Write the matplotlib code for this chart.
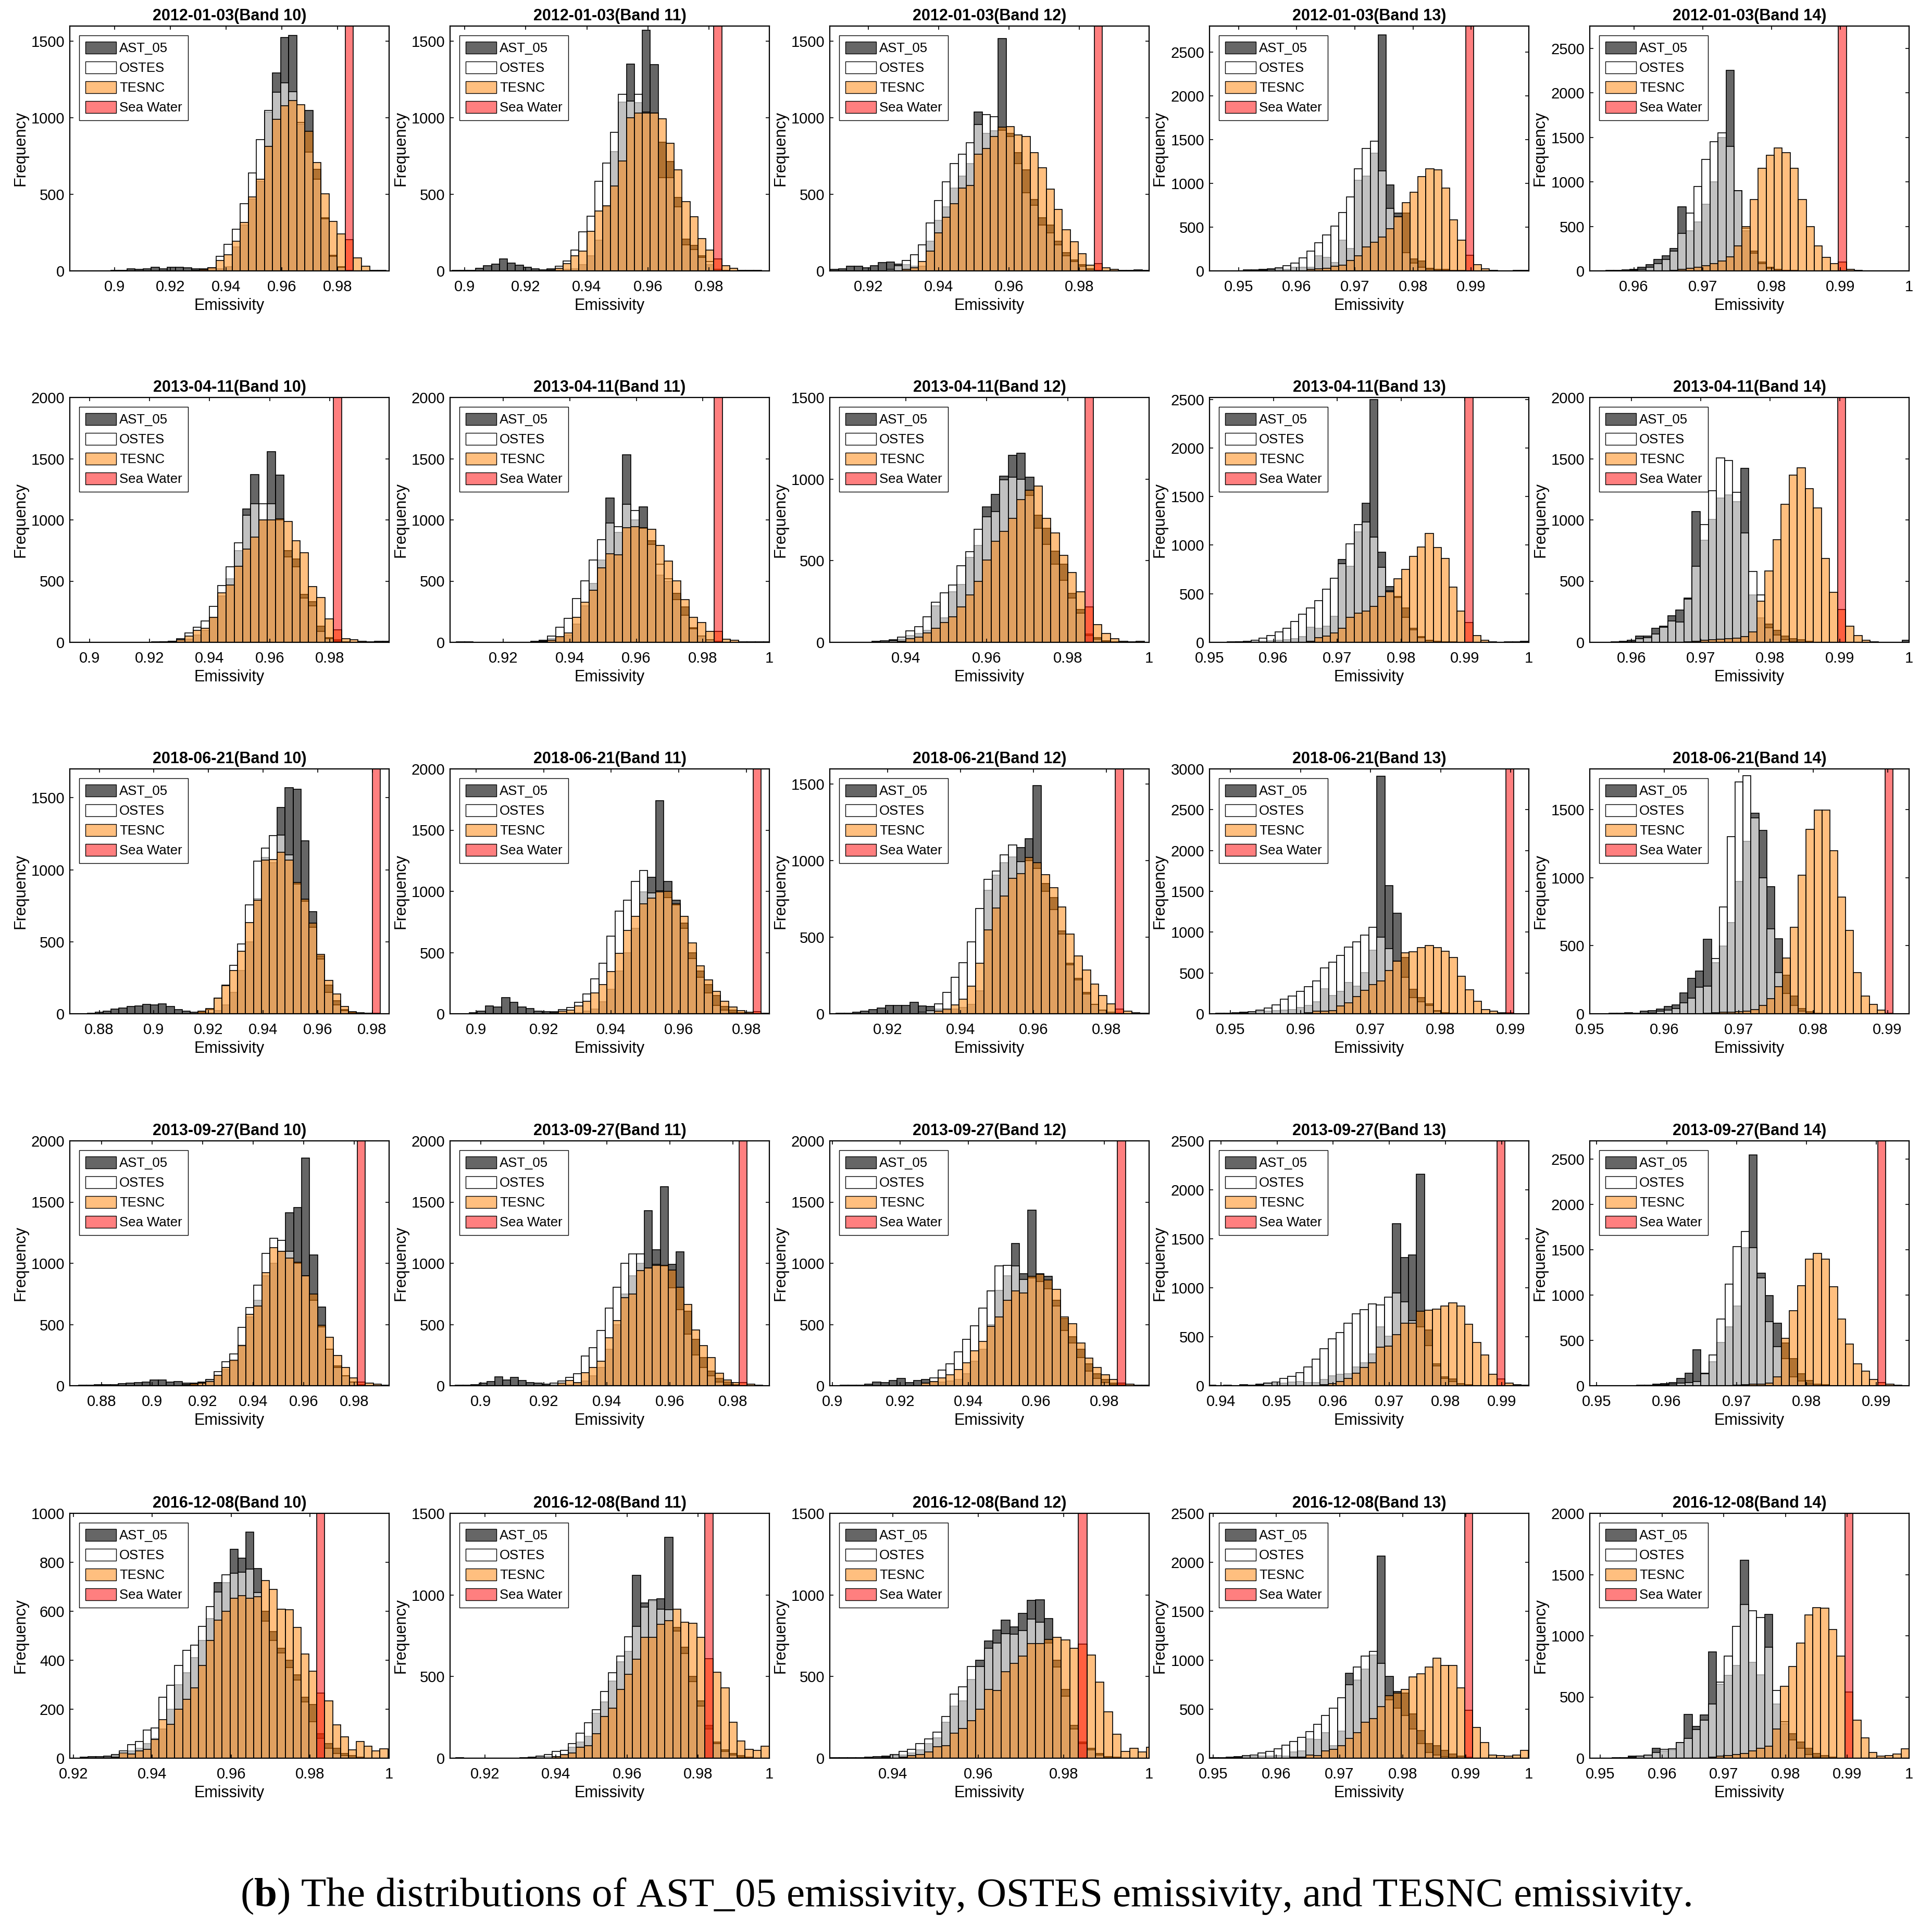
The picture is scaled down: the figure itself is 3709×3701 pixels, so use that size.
import numpy as np
import matplotlib.pyplot as plt
from matplotlib.patches import Patch
from matplotlib.ticker import FuncFormatter

plt.rcParams['font.family'] = ['Liberation Sans', 'DejaVu Sans']
plt.rcParams['mathtext.fontset'] = 'custom'
plt.rcParams['mathtext.rm'] = 'Liberation Serif'
plt.rcParams['mathtext.bf'] = 'Liberation Serif:bold'

# titles
dates = ["2012-01-03", "2013-04-11", "2018-06-21", "2013-09-27", "2016-12-08"]
bands = [10, 11, 12, 13, 14]

# histogram bins: first edge, bin width, index of the sea water bin (row major panels)
bin_start = [0.8842, 0.8958, 0.90929, 0.94535, 0.9536,
             0.8932, 0.90583, 0.92118, 0.94908, 0.9536,
             0.8698, 0.89317, 0.90367, 0.94675, 0.94939,
             0.86777, 0.88938, 0.8999, 0.93764, 0.94881,
             0.91969, 0.91181, 0.92545, 0.94952, 0.948]
bin_width = [0.0029, 0.0026, 0.00227, 0.001365, 0.001165,
             0.00275, 0.0025, 0.0021, 0.00124, 0.001165,
             0.0029, 0.0024, 0.00225, 0.00115, 0.00106,
             0.00315, 0.0025, 0.0024, 0.00143, 0.00115,
             0.002, 0.00226, 0.002, 0.00126, 0.0013]
sea_bin = [34, 33, 33, 32, 31,
           32, 31, 30, 33, 31,
           38, 37, 35, 37, 38,
           36, 37, 35, 36, 36,
           31, 31, 29, 32, 32]
sea_count = [9000, 9000, 9000, 9000, 9000,
             9000, 9000, 9000, 9000, 9000,
             9000, 9000, 9000, 9000, 9000,
             9000, 9000, 9000, 9000, 9000,
             9000, 9000, 9000, 9000, 9000]

# 2012-01-03
ast_01 = [0,0,0,0,0,5,5,15,10,12,25,15,25,25,22,12,15,20,15,27,157,300,470,584,1040,1292,1524,1539,960,1048,664,348,102,27,3,0,0,0,3]
ostes_01 = [0,0,0,0,0,0,0,0,0,0,0,0,0,0,0,2,5,20,95,175,273,440,641,857,1048,1166,1228,1170,969,775,600,340,95,25,5,0,0,0,0]
tesnc_01 = [0,0,0,0,0,0,0,0,0,0,0,0,0,0,0,3,10,20,68,106,195,316,484,600,812,989,1078,1112,1085,911,709,505,325,241,205,86,31,2,0]

ast_02 = [3,3,3,16,35,44,79,51,38,25,12,6,5,8,10,15,40,100,200,420,779,1104,1350,1100,1573,1348,841,716,480,206,166,100,40,10,3,0,0,3,3,0]
ostes_02 = [0,0,0,0,0,0,0,0,0,0,0,5,15,29,64,135,254,356,585,704,904,1154,1110,1155,1040,1030,610,610,420,170,140,90,60,10,0,0,0,0,0,0]
tesnc_02 = [0,0,0,0,0,0,0,0,0,0,0,3,8,16,48,98,130,260,391,426,556,720,1000,1030,1030,1030,994,835,660,454,354,210,135,79,35,16,3,0,0,0]

ast_03 = [10,15,31,29,19,34,54,57,44,40,30,30,195,330,420,540,620,700,1040,900,916,1518,900,773,660,465,346,300,195,120,70,40,15,5,0,0,0,0,6,2]
ostes_03 = [0,0,0,0,0,0,0,10,35,69,107,171,312,460,582,700,761,836,956,1021,1006,920,880,700,510,430,300,250,170,100,60,30,10,3,0,0,0,0,0,0]
tesnc_03 = [0,0,0,0,0,0,0,0,0,10,20,60,130,250,350,440,540,560,761,800,880,940,943,887,880,773,673,535,402,270,189,113,38,47,19,10,3,2,0,0]

ast_04 = [0,0,0,0,12,12,17,26,24,20,40,40,40,172,153,97,350,255,1035,1087,1349,2700,983,662,662,137,113,30,20,15,5,3,0,0,0,0,0,0,4,4]
ostes_04 = [0,0,0,0,0,5,10,20,35,59,90,149,224,319,413,510,669,846,1170,1401,1484,1141,716,621,208,90,42,20,10,5,0,0,0,0,0,0,0,0,0,0]
tesnc_04 = [0,0,0,0,0,0,0,0,0,0,0,0,17,21,31,54,66,120,172,272,326,390,484,620,780,898,1077,1170,1153,948,581,354,180,71,24,5,0,0,0,0]

ast_05 = [0,0,3,5,10,20,40,70,130,170,250,720,450,550,750,1000,1500,2250,900,450,220,100,40,15,8,3,0,0,0,0,0,0,0,0,0,0,0,0,0,0]
ostes_05 = [0,0,0,2,5,10,20,40,80,130,220,420,650,950,1250,1450,1550,1400,900,480,200,80,30,10,5,2,0,0,0,0,0,0,0,0,0,0,0,0,0,0]
tesnc_05 = [0,0,0,0,0,0,0,0,0,0,5,15,30,40,60,80,110,160,280,500,800,1150,1300,1380,1330,1150,800,500,280,150,80,100,20,5,0,0,0,0,0,0]

# 2013-04-11
ast_06 = [0,0,0,0,0,0,0,0,0,0,3,3,8,18,27,60,100,200,380,520,750,1090,1370,1000,1559,1367,750,680,390,330,130,40,20,5,0,0,0,8,8]
ostes_06 = [0,0,0,0,0,0,0,0,0,0,0,3,10,30,76,122,175,294,465,617,812,1040,1130,1130,1130,1000,700,617,360,300,90,30,10,0,0,0,0,0,0]
tesnc_06 = [0,0,0,0,0,0,0,0,0,0,0,0,5,20,53,99,114,206,404,470,620,760,860,1000,1000,1010,988,831,732,457,366,190,104,30,20,10,3,0,0]

ast_07 = [5,5,0,0,0,0,0,0,0,10,18,30,40,60,150,300,480,671,1177,900,1532,1000,1108,830,550,500,400,290,120,40,15,5,0,0,0,0,0,0]
ostes_07 = [0,0,0,0,0,0,0,0,0,0,10,50,122,194,358,503,671,838,976,945,1128,1075,930,800,640,520,350,220,110,50,20,10,0,0,0,0,0,0]
tesnc_07 = [0,0,0,0,0,0,0,0,0,0,5,18,46,76,206,328,427,610,724,716,937,945,937,922,793,663,503,350,206,160,91,90,26,15,5,3,3,5]

ast_08 = [0,0,0,0,0,6,11,17,20,40,55,74,223,149,309,355,521,595,830,907,1019,1145,1160,1013,780,700,560,480,300,200,50,30,10,3,0,0,0,0]
ostes_08 = [0,0,0,0,0,0,0,10,31,69,97,155,246,303,351,469,555,693,769,800,996,1013,1000,900,700,600,480,380,270,180,40,20,5,0,0,0,0,0]
tesnc_08 = [0,0,0,0,0,0,0,0,5,23,32,57,86,120,155,218,292,372,504,618,681,760,876,933,956,761,670,532,429,309,218,109,55,23,5,3,5,0]

ast_09 = [0,0,0,4,5,5,5,10,15,20,25,40,58,154,144,167,269,852,785,1135,1433,2500,927,573,470,356,144,60,20,10,5,3,0,0,0,0,0,0,5,5,10,0]
ostes_09 = [0,0,0,0,5,10,23,44,71,106,144,212,288,356,429,548,660,808,1015,1212,1237,1083,773,529,460,260,130,48,15,5,0,0,0,0,0,0,0,0,0,0,0,0]
tesnc_09 = [0,0,0,0,0,0,0,0,0,0,0,0,0,10,48,63,96,144,260,298,320,371,471,520,654,750,885,981,1121,977,865,571,323,206,71,19,3,0,0,0,0,0]

ast_10 = [0,0,0,3,8,15,50,50,114,133,218,264,361,1067,834,1005,1178,1204,1150,1422,389,200,150,100,50,30,20,10,0,0,0,0,0,0,0,0,0,0,0,15]
ostes_10 = [0,0,0,0,0,5,30,40,69,122,175,168,355,620,963,1239,1505,1483,1227,895,579,389,120,60,20,5,0,0,0,0,0,0,0,0,0,0,0,0,0,0]
tesnc_10 = [0,0,0,0,0,0,0,0,0,0,0,0,5,10,15,20,25,30,35,46,84,335,584,838,1128,1364,1425,1255,1098,686,407,270,130,56,15,3,0,0,0,0]

# 2018-06-21
ast_11 = [0,0,4,10,17,33,39,49,55,64,62,68,49,30,17,10,8,8,20,60,150,300,500,800,1085,1050,1432,1570,1559,1201,709,400,200,90,30,10,5,3,0,0]
ostes_11 = [0,0,0,0,0,0,0,0,0,0,0,0,0,0,0,0,10,30,110,200,335,486,757,1059,1149,1238,1239,1104,900,780,600,380,150,60,20,5,0,0,0,0]
tesnc_11 = [0,0,0,0,0,0,0,0,0,0,0,0,0,0,0,0,17,36,107,197,300,435,634,789,1066,1072,1120,1068,911,795,628,412,232,139,49,13,8,3,3,0]

ast_12 = [0,0,8,20,65,57,132,95,57,42,20,15,12,10,10,10,20,40,100,200,350,500,700,997,1117,1741,1080,929,740,500,350,240,150,60,30,10,5,0,0]
ostes_12 = [0,0,0,0,0,0,0,0,0,0,0,0,15,35,50,95,162,283,411,632,839,929,1080,1170,989,1005,950,890,700,450,300,170,70,30,10,5,0,0,0]
tesnc_12 = [0,0,0,0,0,0,0,0,0,0,0,0,10,20,30,65,102,170,238,343,493,681,794,899,944,997,1000,899,794,580,391,275,185,102,57,27,12,15,5]

ast_13 = [0,3,4,10,16,28,36,54,54,54,74,52,46,30,25,30,40,60,150,807,904,988,1025,1085,1145,1490,850,760,540,330,230,140,60,20,5,3,0,0,3]
ostes_13 = [0,0,0,0,0,0,0,0,0,0,0,10,20,64,140,239,333,469,686,877,934,1040,1103,994,1000,950,800,680,520,320,220,130,60,25,10,0,0,0,0]
tesnc_13 = [0,0,0,0,0,0,0,0,0,0,0,0,0,16,31,58,94,180,330,547,692,771,886,916,1021,988,910,825,698,520,378,285,193,118,64,31,16,6,0]

ast_14 = [0,4,4,11,18,20,29,30,41,45,52,75,104,145,308,222,277,381,336,506,778,2909,1571,1229,692,300,200,120,40,10,5,0,0,0,0,0,0,0,0,0]
ostes_14 = [0,0,0,0,10,27,45,68,109,177,215,277,331,399,562,635,717,819,884,966,1061,937,800,642,450,200,150,100,30,10,0,0,0,0,0,0,0,0,0,0]
tesnc_14 = [0,0,0,0,0,0,0,0,0,0,0,0,10,34,34,41,97,132,211,290,358,399,528,642,748,762,812,839,812,766,687,460,295,154,52,29,14,14,3,0]

ast_15 = [0,0,0,3,3,7,4,18,22,36,52,66,155,261,313,546,374,498,672,971,1268,1475,1348,936,552,285,130,40,15,5,0,0,0,0,0,0,0,0,0,0,0,0]
ostes_15 = [0,0,0,0,0,0,0,0,5,18,25,38,80,114,196,203,405,786,1304,1704,1752,1440,998,625,303,150,60,20,5,0,0,0,0,0,0,0,0,0,0,0,0,0]
tesnc_15 = [0,0,0,0,0,0,0,0,0,0,0,0,0,0,0,5,8,10,12,15,20,30,60,110,200,409,635,1019,1357,1499,1499,1197,858,614,302,132,70,27,4,0,0,0]

# 2013-09-27
ast_16 = [0,3,3,8,8,8,15,20,27,30,45,45,30,35,20,20,30,45,80,130,200,330,560,700,900,1000,1100,1411,1454,1861,1067,642,300,160,80,30,10,0,0,0]
ostes_16 = [0,0,0,0,0,0,0,0,0,0,0,0,0,0,0,10,20,50,115,196,261,476,637,823,1079,1206,1188,1100,1000,900,700,480,300,150,80,30,10,0,0,0]
tesnc_16 = [0,0,0,0,0,0,0,0,0,0,0,0,0,0,10,15,20,35,87,148,208,329,585,650,924,1127,1100,1044,1007,900,751,494,396,246,148,65,30,20,12,5]

ast_17 = [0,3,5,9,20,35,72,45,69,42,24,20,12,10,10,10,20,40,80,150,300,500,750,900,1000,1429,1109,1625,990,1093,610,380,230,120,60,30,10,0,0,0,0]
ostes_17 = [0,0,0,0,0,0,0,0,0,0,0,0,0,20,40,69,99,241,310,449,634,803,999,1075,1075,960,990,980,800,620,420,250,150,80,30,10,0,0,0,0,0]
tesnc_17 = [0,0,0,0,0,0,0,0,0,0,0,0,0,0,20,42,27,105,148,200,392,532,720,750,939,962,984,984,946,803,663,457,329,231,102,45,27,27,12,6,0]

ast_18 = [0,3,3,5,12,30,24,43,58,27,43,50,30,30,40,50,100,200,300,500,780,900,1160,917,1434,917,894,700,550,400,300,180,100,50,20,10,0,0,0]
ostes_18 = [0,0,0,0,0,0,0,0,0,0,0,20,65,126,179,278,377,491,636,776,978,981,978,870,880,850,790,650,450,350,230,120,60,25,10,0,0,0,0]
tesnc_18 = [0,0,0,0,0,0,0,0,0,0,0,20,35,65,88,134,187,286,362,487,560,697,773,757,894,909,864,788,560,506,347,225,149,88,50,20,12,5,5]

ast_19 = [5,0,3,0,9,5,15,24,20,28,38,43,30,34,62,100,119,123,192,232,326,600,505,1652,1307,1335,2161,571,222,90,70,20,10,0,0,0,0,0,0,0]
ostes_19 = [0,0,0,0,0,0,10,24,38,72,94,132,194,270,377,477,543,637,735,779,835,826,905,948,854,666,600,411,200,77,40,15,0,0,0,0,0,0,0,0]
tesnc_19 = [0,0,0,0,0,0,0,0,0,0,0,0,0,0,10,20,43,72,128,185,232,392,402,520,637,637,760,769,784,816,848,816,628,443,313,119,68,24,9,5]

ast_20 = [0,0,0,0,0,0,4,6,16,21,33,78,140,397,136,267,479,650,880,1524,2546,1240,993,691,469,300,130,60,20,10,0,0,0,0,0,0,0,0,0,0]
ostes_20 = [0,0,0,0,0,0,0,0,5,10,20,30,37,47,134,341,736,1123,1532,1703,1524,1189,705,428,300,100,50,20,0,0,0,0,0,0,0,0,0,0,0,0]
tesnc_20 = [0,0,0,0,0,0,0,0,0,0,0,0,0,0,0,0,0,0,5,10,15,20,30,100,520,825,1102,1394,1460,1394,1090,736,459,243,160,68,37,16,6,0]

# 2016-12-08
ast_21 = [0,4,6,6,8,10,15,30,40,60,80,120,200,299,349,410,480,570,716,718,853,817,924,775,600,516,450,400,340,250,220,100,60,40,20,10,5,0,0,0]
ostes_21 = [0,0,0,0,0,14,29,56,69,114,124,250,297,378,440,462,538,620,678,749,756,760,772,676,560,480,430,370,320,230,150,80,40,20,10,0,0,0,0,0]
tesnc_21 = [0,0,0,0,0,5,21,18,30,37,76,158,139,200,241,288,379,480,564,600,653,663,653,660,726,690,608,606,533,426,356,265,235,136,88,33,69,48,29,38]

ast_22 = [3,0,0,0,0,0,0,0,3,3,5,10,10,15,66,100,135,274,346,472,592,655,1120,950,965,978,1354,800,680,500,350,200,100,50,30,15,5,0,0]
ostes_22 = [0,0,0,0,0,0,0,0,0,7,13,21,41,49,89,154,217,297,409,523,626,743,809,926,971,914,910,780,640,470,320,180,90,40,20,5,0,0,0]
tesnc_22 = [0,0,0,0,0,0,0,0,0,0,0,0,11,21,32,66,78,149,255,306,421,514,606,741,741,820,843,912,832,826,741,609,526,430,221,106,55,49,72]

ast_23 = [3,3,3,3,7,9,13,15,18,32,50,89,126,221,318,352,483,600,718,786,846,803,887,967,970,855,600,420,200,100,60,30,10,5,0,0,0,0]
ostes_23 = [0,0,0,0,0,0,5,21,43,55,89,118,158,255,392,438,563,563,672,704,763,760,781,853,832,706,560,380,180,90,50,20,5,0,0,0,0,0]
tesnc_23 = [0,0,0,0,0,0,0,0,5,15,21,38,69,78,152,181,229,301,421,415,529,581,626,701,701,729,741,723,672,700,632,466,283,146,43,61,38,66]

ast_24 = [6,6,11,15,15,15,20,22,25,20,63,76,196,190,259,129,278,868,796,910,1053,2066,834,682,663,450,280,150,130,80,40,20,10,0,0,0,0,0,0,0]
ostes_24 = [0,0,5,10,25,34,53,67,95,135,168,215,272,348,434,510,615,748,929,1043,1091,967,596,510,434,300,150,60,30,15,5,0,0,0,0,0,0,0,0,0]
tesnc_24 = [0,0,0,0,0,0,0,0,0,0,10,10,34,29,72,91,129,202,263,367,406,529,640,666,700,830,862,933,1020,948,948,720,491,314,162,30,25,21,34,82]

ast_25 = [0,0,0,5,5,17,17,20,81,60,70,129,359,260,355,870,606,675,759,1619,784,682,1174,443,280,200,130,80,40,20,10,0,0,0,0,0,0,0,0,0]
ostes_25 = [0,0,0,0,0,10,15,25,46,73,76,129,161,233,309,442,621,835,1078,1254,1203,1147,908,553,300,150,80,30,10,0,0,0,0,0,0,0,0,0,0,0]
tesnc_25 = [0,0,0,0,0,0,0,0,0,0,0,0,0,0,0,10,15,20,30,40,60,80,100,240,586,748,941,1170,1231,1226,1051,832,542,309,165,46,15,20,35,76]

ast = [ast_01, ast_02, ast_03, ast_04, ast_05, ast_06, ast_07, ast_08, ast_09, ast_10,
       ast_11, ast_12, ast_13, ast_14, ast_15, ast_16, ast_17, ast_18, ast_19, ast_20,
       ast_21, ast_22, ast_23, ast_24, ast_25]
ostes = [ostes_01, ostes_02, ostes_03, ostes_04, ostes_05, ostes_06, ostes_07, ostes_08, ostes_09, ostes_10,
         ostes_11, ostes_12, ostes_13, ostes_14, ostes_15, ostes_16, ostes_17, ostes_18, ostes_19, ostes_20,
         ostes_21, ostes_22, ostes_23, ostes_24, ostes_25]
tesnc = [tesnc_01, tesnc_02, tesnc_03, tesnc_04, tesnc_05, tesnc_06, tesnc_07, tesnc_08, tesnc_09, tesnc_10,
         tesnc_11, tesnc_12, tesnc_13, tesnc_14, tesnc_15, tesnc_16, tesnc_17, tesnc_18, tesnc_19, tesnc_20,
         tesnc_21, tesnc_22, tesnc_23, tesnc_24, tesnc_25]

# axis ranges and ticks
xlims = [(0.884, 0.9985), (0.8952, 0.9998), (0.9091, 0.9998), (0.945, 0.9999), (0.9536, 1.0),
         (0.8934, 0.9998), (0.904, 1.0), (0.9213, 1.0), (0.95, 1.0), (0.954, 1.0),
         (0.8692, 0.9862), (0.8923, 0.9868), (0.9042, 0.9917), (0.947, 0.9926), (0.95, 0.9929),
         (0.8675, 0.9937), (0.8902, 0.9915), (0.8993, 0.9932), (0.938, 0.9948), (0.949, 0.9947),
         (0.9191, 1.0), (0.9102, 1.0), (0.9253, 1.0), (0.9494, 1.0), (0.9483, 1.0)]
xticks = [[0.9, 0.92, 0.94, 0.96, 0.98], [0.9, 0.92, 0.94, 0.96, 0.98], [0.92, 0.94, 0.96, 0.98],
          [0.95, 0.96, 0.97, 0.98, 0.99], [0.96, 0.97, 0.98, 0.99, 1.0],
          [0.9, 0.92, 0.94, 0.96, 0.98], [0.92, 0.94, 0.96, 0.98, 1.0], [0.94, 0.96, 0.98, 1.0],
          [0.95, 0.96, 0.97, 0.98, 0.99, 1.0], [0.96, 0.97, 0.98, 0.99, 1.0],
          [0.88, 0.9, 0.92, 0.94, 0.96, 0.98], [0.9, 0.92, 0.94, 0.96, 0.98], [0.92, 0.94, 0.96, 0.98],
          [0.95, 0.96, 0.97, 0.98, 0.99], [0.95, 0.96, 0.97, 0.98, 0.99],
          [0.88, 0.9, 0.92, 0.94, 0.96, 0.98], [0.9, 0.92, 0.94, 0.96, 0.98], [0.9, 0.92, 0.94, 0.96, 0.98],
          [0.94, 0.95, 0.96, 0.97, 0.98, 0.99], [0.95, 0.96, 0.97, 0.98, 0.99],
          [0.92, 0.94, 0.96, 0.98, 1.0], [0.92, 0.94, 0.96, 0.98, 1.0], [0.94, 0.96, 0.98, 1.0],
          [0.95, 0.96, 0.97, 0.98, 0.99, 1.0], [0.95, 0.96, 0.97, 0.98, 0.99, 1.0]]
ylims = [1600, 1600, 1600, 2800, 2750,
         2000, 2000, 1500, 2520, 2000,
         1700, 2000, 1600, 3000, 1800,
         2000, 2000, 2000, 2500, 2700,
         1000, 1500, 1500, 2500, 2000]
yticks = [[0, 500, 1000, 1500]] * 3 + [[0, 500, 1000, 1500, 2000, 2500]] * 2 + \
         [[0, 500, 1000, 1500, 2000]] * 2 + [[0, 500, 1000, 1500]] + [[0, 500, 1000, 1500, 2000, 2500]] + \
         [[0, 500, 1000, 1500, 2000]] + \
         [[0, 500, 1000, 1500], [0, 500, 1000, 1500, 2000], [0, 500, 1000, 1500],
          [0, 500, 1000, 1500, 2000, 2500, 3000], [0, 500, 1000, 1500]] + \
         [[0, 500, 1000, 1500, 2000]] * 3 + [[0, 500, 1000, 1500, 2000, 2500]] * 2 + \
         [[0, 200, 400, 600, 800, 1000], [0, 500, 1000, 1500], [0, 500, 1000, 1500],
          [0, 500, 1000, 1500, 2000, 2500], [0, 500, 1000, 1500, 2000]]

# colours (MATLAB-like transparent faces)
C_AST = (0, 0, 0, 0.6)
C_OSTES = (1, 1, 1, 0.6)
C_TESNC = (1, 0.5, 0, 0.5)
C_SEA = (1, 0, 0, 0.5)

W, H = 3709, 3701
col_left = [134, 864, 1593, 2322, 3052]
row_top = [50, 763, 1476, 2190, 2905]
ax_w, ax_h = 613, 470

fig = plt.figure(figsize=(W / 100, H / 100), dpi=100)
fmt = FuncFormatter(lambda v, p: f"{v:g}")

for k in range(25):
    r, c = divmod(k, 5)
    ax = fig.add_axes([col_left[c] / W, 1 - (row_top[r] + ax_h) / H, ax_w / W, ax_h / H])
    start, bw = bin_start[k], bin_width[k]
    for counts, colr in ((ast[k], C_AST), (ostes[k], C_OSTES), (tesnc[k], C_TESNC)):
        x = start + bw * np.arange(len(counts))
        ax.bar(x, counts, width=bw, align='edge', color=colr, edgecolor='k', linewidth=1.2)
    sx = start + bw * sea_bin[k]
    ax.bar([sx], [sea_count[k]], width=bw, align='edge', color=C_SEA, edgecolor='k', linewidth=1.2)

    ax.set_xlim(*xlims[k])
    ax.set_ylim(0, ylims[k])
    ax.set_xticks(xticks[k])
    ax.set_yticks(yticks[k])
    ax.xaxis.set_major_formatter(fmt)
    ax.tick_params(direction='in', top=True, right=True, length=5, width=1.2, labelsize=21)
    ax.tick_params(axis='x', pad=12)
    ax.tick_params(axis='y', pad=7)
    for s in ax.spines.values():
        s.set_linewidth(1.6)
    ax.set_title(f"{dates[r]}(Band {bands[c]})", fontsize=22, fontweight='bold', pad=8)
    ax.set_xlabel("Emissivity", fontsize=22, labelpad=5)
    ax.set_ylabel("Frequency", fontsize=22, labelpad=4)

    handles = [Patch(facecolor=C_AST, edgecolor='k', linewidth=1.0),
               Patch(facecolor=C_OSTES, edgecolor='k', linewidth=1.0),
               Patch(facecolor=C_TESNC, edgecolor='k', linewidth=1.0),
               Patch(facecolor=C_SEA, edgecolor='k', linewidth=1.0)]
    leg = ax.legend(handles, ["AST_05", "OSTES", "TESNC", "Sea Water"], loc='upper left',
                    fontsize=18.5, handlelength=2.3, handleheight=1.0, handletextpad=0.25,
                    labelspacing=0.5, borderpad=0.45, borderaxespad=0.7,
                    fancybox=False, edgecolor='k', framealpha=1)
    leg.get_frame().set_linewidth(1.0)

fig.text(0.5, 0.0165,
         r"($\mathbf{b}$) The distributions of AST_05 emissivity, OSTES emissivity, and TESNC emissivity.",
         ha='center', va='center', fontsize=57, family='Liberation Serif')

fig.savefig("out.png", dpi=100)
